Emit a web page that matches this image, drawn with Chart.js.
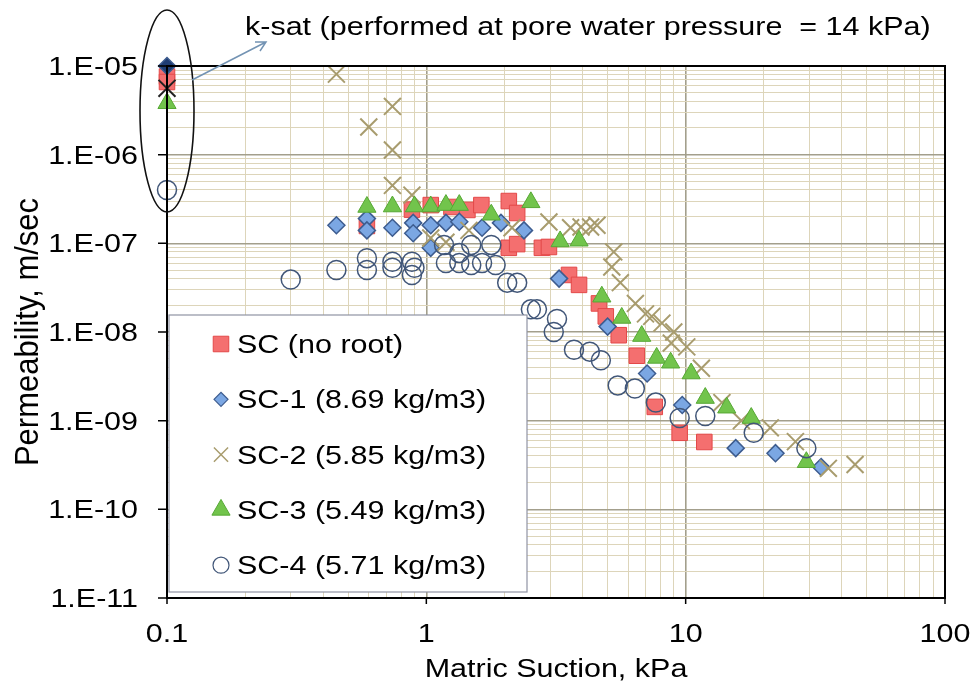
<!DOCTYPE html>
<html>
<head>
<meta charset="utf-8">
<script src="https://cdn.jsdelivr.net/npm/chart.js@4.4.1/dist/chart.umd.min.js"></script>
<style>
  html, body { margin: 0; padding: 0; background: #fff; }
  #wrap { width: 974px; height: 696px; }
</style>
</head>
<body>
<div id="wrap"><canvas id="permChart" width="974" height="696"></canvas></div>
<script>
// values: matric suction (kPa) and permeability (m/s)
const scSuction = [0.1, 0.1, 0.59, 0.88, 1.04, 1.25, 1.44, 1.63, 2.08, 2.24, 2.08, 2.24, 2.79, 2.97, 3.55, 3.88, 4.63, 4.92, 5.52, 6.48, 7.6, 9.48, 11.8];
const scPerm = [7.6e-6, 6.6e-6, 1.57e-7, 2.4e-7, 2.7e-7, 2.57e-7, 2.38e-7, 2.7e-7, 3.0e-7, 2.2e-7, 8.9e-8, 9.8e-8, 8.9e-8, 9.1e-8, 4.4e-8, 3.4e-8, 2.1e-8, 1.5e-8, 9.2e-9, 5.4e-9, 1.43e-9, 7.3e-10, 5.75e-10];

const sc1Suction = [0.1, 0.45, 0.59, 0.59, 0.74, 0.89, 0.89, 1.04, 1.04, 1.19, 1.34, 1.64, 1.94, 2.38, 3.25, 5.0, 7.1, 9.7, 15.6, 22.2, 33.3];
const sc1Perm = [1.0e-5, 1.6e-7, 1.9e-7, 1.4e-7, 1.5e-7, 1.7e-7, 1.3e-7, 1.6e-7, 8.9e-8, 1.7e-7, 1.75e-7, 1.5e-7, 1.7e-7, 1.4e-7, 4.0e-8, 1.15e-8, 3.4e-9, 1.5e-9, 4.9e-10, 4.3e-10, 3.0e-10];

const sc2Suction = [0.1, 0.45, 0.6, 0.74, 0.74, 0.74, 0.88, 1.04, 1.19, 1.46, 2.14, 2.97, 3.6, 3.95, 4.3, 4.55, 5.28, 5.19, 5.6, 6.4, 7.0, 7.4, 8.1, 9.0, 8.8, 10.1, 11.5, 13.8, 16.4, 21.2, 26.5, 35.5, 45];
const sc2Perm = [5.6e-6, 8.1e-6, 2.05e-6, 3.5e-6, 1.13e-6, 4.5e-7, 3.5e-7, 1.15e-7, 1.03e-7, 1.4e-7, 1.5e-7, 1.74e-7, 1.5e-7, 1.53e-7, 1.53e-7, 1.6e-7, 8.0e-8, 5.4e-8, 3.6e-8, 2.1e-8, 1.6e-8, 1.5e-8, 1.26e-8, 1.0e-8, 7.5e-9, 6.8e-9, 3.9e-9, 1.6e-9, 1.0e-9, 8.3e-10, 5.8e-10, 2.9e-10, 3.2e-10];

const sc3Suction = [0.1, 0.59, 0.74, 0.9, 1.04, 1.19, 1.34, 1.78, 2.53, 3.28, 3.88, 4.75, 5.67, 6.77, 7.73, 8.75, 10.5, 11.9, 14.4, 17.9, 29.2];
const sc3Perm = [3.8e-6, 2.57e-7, 2.6e-7, 2.6e-7, 2.6e-7, 2.7e-7, 2.7e-7, 2.1e-7, 2.9e-7, 1.05e-7, 1.07e-7, 2.5e-8, 1.44e-8, 9.0e-9, 5.1e-9, 4.5e-9, 3.4e-9, 1.8e-9, 1.4e-9, 1.07e-9, 3.4e-10];

const sc4Suction = [0.1, 0.3, 0.45, 0.59, 0.59, 0.74, 0.74, 0.88, 0.88, 0.9, 1.17, 1.19, 1.34, 1.34, 1.49, 1.49, 1.64, 1.78, 1.85, 2.05, 2.24, 2.53, 2.67, 3.19, 3.1, 3.71, 4.27, 4.71, 5.47, 6.37, 7.67, 9.48, 11.9, 18.3, 29.2];
const sc4Perm = [4.0e-7, 3.9e-8, 5.0e-8, 6.8e-8, 5.0e-8, 6.2e-8, 5.3e-8, 6.2e-8, 4.4e-8, 5.3e-8, 9.6e-8, 6.0e-8, 7.8e-8, 6.0e-8, 9.6e-8, 5.7e-8, 6.0e-8, 9.6e-8, 5.7e-8, 3.6e-8, 3.6e-8, 1.8e-8, 1.8e-8, 1.4e-8, 1.0e-8, 6.3e-9, 6.0e-9, 4.8e-9, 2.5e-9, 2.3e-9, 1.6e-9, 1.07e-9, 1.13e-9, 7.3e-10, 4.9e-10];

const seriesNames = ['SC (no root)', 'SC-1 (8.69 kg/m3)', 'SC-2 (5.85 kg/m3)', 'SC-3 (5.49 kg/m3)', 'SC-4 (5.71 kg/m3)'];

const xMajorTicks = [0.1, 1, 10, 100];
const xTickLabels = ['0.1', '1', '10', '100'];
const yMajorTicks = [1e-11, 1e-10, 1e-9, 1e-8, 1e-7, 1e-6, 1e-5];
const yTickLabels = ['1.E-11', '1.E-10', '1.E-09', '1.E-08', '1.E-07', '1.E-06', '1.E-05'];

const noteText = 'k-sat (performed at pore water pressure  = 14 kPa)';
const xTitle = 'Matric Suction, kPa';
const yTitle = 'Permeability, m/sec';

const FONT = '"Liberation Sans", Arial, sans-serif';
const FSIZE = 25;
const STRETCH = 1.22;

function toPoints(xs, ys) {
  return xs.map((x, i) => ({ x: x, y: ys[i] }));
}

// major ticks plus 2..9 in each decade
function logTicks(majors) {
  const out = [];
  majors.forEach((m, i) => {
    out.push({ value: m, major: true });
    if (i < majors.length - 1) {
      for (let k = 2; k <= 9; k++) out.push({ value: m * k, major: false });
    }
  });
  return out;
}

function gridColor(c) {
  return c.tick && c.tick.major ? '#a39f8c' : '#ddd5ba';
}
function gridWidth(c) {
  return c.tick && c.tick.major ? 1.6 : 1;
}

function drawText(ctx, str, x, y, size, align, rot) {
  ctx.save();
  ctx.font = size + 'px ' + FONT;
  ctx.fillStyle = '#000';
  ctx.textAlign = align;
  ctx.textBaseline = 'alphabetic';
  ctx.translate(x, y);
  if (rot) {
    ctx.rotate(rot);
    ctx.scale(1, 1.1);
  } else {
    ctx.scale(STRETCH, 1);
  }
  ctx.fillText(str, 0, 0);
  ctx.restore();
}

const legendStyles = [
  { pointStyle: 'rect', radius: 11, bg: '#f46f6f', border: '#e34848', bw: 1 },
  { pointStyle: 'rectRot', radius: 7, bg: '#7ba7e3', border: '#3d5c8f', bw: 1.2 },
  { pointStyle: 'crossRot', radius: 10, bg: '#a89c6e', border: '#a89c6e', bw: 1.5 },
  { pointStyle: 'triangle', radius: 10.5, bg: '#72c44c', border: '#56a834', bw: 1 },
  { pointStyle: 'circle', radius: 8, bg: 'rgba(0,0,0,0)', border: '#415678', bw: 1.2 }
];

const overlay = {
  id: 'overlay',
  afterDatasetsDraw(chart) {
    const ctx = chart.ctx;
    // legend box
    ctx.save();
    ctx.fillStyle = '#fff';
    ctx.strokeStyle = '#8f93a3';
    ctx.lineWidth = 1.2;
    ctx.fillRect(169, 315, 358, 277);
    ctx.strokeRect(169, 315, 358, 277);
    ctx.restore();
    seriesNames.forEach((name, i) => {
      const yc = 344 + i * 55.3;
      const st = legendStyles[i];
      ctx.save();
      ctx.fillStyle = st.bg;
      ctx.strokeStyle = st.border;
      ctx.lineWidth = st.bw;
      Chart.helpers.drawPoint(ctx, { pointStyle: st.pointStyle, radius: st.radius, rotation: 0, borderWidth: st.bw }, 221, yc);
      ctx.restore();
      drawText(ctx, name, 237, yc + 9, FSIZE, 'left');
    });
  },
  afterDraw(chart) {
    const ctx = chart.ctx;
    const a = chart.chartArea;
    const xs = chart.scales.x, ys = chart.scales.y;
    ctx.save();
    ctx.strokeStyle = '#000';
    ctx.lineWidth = 2;
    ctx.strokeRect(a.left, a.top, a.right - a.left, a.bottom - a.top);
    ctx.lineWidth = 1.5;
    ctx.beginPath();
    yMajorTicks.forEach(v => {
      const py = ys.getPixelForValue(v);
      ctx.moveTo(a.left - 9, py);
      ctx.lineTo(a.left, py);
    });
    xMajorTicks.forEach(v => {
      const px = xs.getPixelForValue(v);
      ctx.moveTo(px, a.bottom);
      ctx.lineTo(px, a.bottom + 6);
    });
    ctx.stroke();
    ctx.restore();

    yMajorTicks.forEach((v, i) => {
      drawText(ctx, yTickLabels[i], 138, ys.getPixelForValue(v) + 9, FSIZE, 'right');
    });
    xMajorTicks.forEach((v, i) => {
      drawText(ctx, xTickLabels[i], xs.getPixelForValue(v), 642, FSIZE, 'center');
    });
    drawText(ctx, xTitle, (a.left + a.right) / 2, 677, FSIZE, 'center');
    drawText(ctx, yTitle, 38, (a.top + a.bottom) / 2, 31, 'center', -Math.PI / 2);
    drawText(ctx, noteText, 245, 35, FSIZE, 'left');

    // ellipse around the k-sat points
    ctx.save();
    ctx.strokeStyle = '#111';
    ctx.lineWidth = 1.6;
    ctx.beginPath();
    ctx.ellipse(xs.getPixelForValue(0.1), 111, 27, 101, 0, 0, Math.PI * 2);
    ctx.stroke();
    // arrow to the note
    ctx.strokeStyle = '#7393b3';
    ctx.lineWidth = 1.5;
    ctx.beginPath();
    ctx.moveTo(192, 80);
    ctx.lineTo(266, 42);
    ctx.moveTo(255, 42);
    ctx.lineTo(266, 42);
    ctx.lineTo(260, 51);
    ctx.stroke();
    ctx.restore();
  }
};

const ksat = (c, first, rest) => (c.dataIndex === 0 ? first : rest);

const ctx = document.getElementById('permChart').getContext('2d');
const permChart = new Chart(ctx, {
  type: 'scatter',
  data: {
    datasets: [
      {
        label: seriesNames[0], data: toPoints(scSuction, scPerm), order: 5, clip: false,
        pointStyle: 'rect', pointRadius: 11, pointBackgroundColor: '#f46f6f', pointBorderColor: '#e34848', pointBorderWidth: 1
      },
      {
        label: seriesNames[1], data: toPoints(sc1Suction, sc1Perm), order: 4, clip: false,
        pointStyle: 'rectRot', pointRadius: 8.5,
        pointBackgroundColor: c => ksat(c, '#1f3d73', '#7ba7e3'), pointBorderColor: '#3d5c8f', pointBorderWidth: 1.5
      },
      {
        label: seriesNames[2], data: toPoints(sc2Suction, sc2Perm), order: 3, clip: false,
        pointStyle: 'crossRot', pointRadius: 12,
        pointBorderColor: c => ksat(c, '#222', '#a89c6e'), pointBackgroundColor: '#a89c6e', pointBorderWidth: 2
      },
      {
        label: seriesNames[3], data: toPoints(sc3Suction, sc3Perm), order: 2, clip: false,
        pointStyle: 'triangle', pointRadius: 10.5, pointBackgroundColor: '#72c44c', pointBorderColor: '#56a834', pointBorderWidth: 1
      },
      {
        label: seriesNames[4], data: toPoints(sc4Suction, sc4Perm), order: 1, clip: false,
        pointStyle: 'circle', pointRadius: 9.5, pointBackgroundColor: 'rgba(0,0,0,0)', pointBorderColor: '#415678', pointBorderWidth: 1.5
      }
    ]
  },
  options: {
    responsive: false,
    animation: false,
    layout: { padding: { left: 167, top: 66, right: 29, bottom: 98 } },
    plugins: { legend: { display: false }, tooltip: { enabled: false } },
    scales: {
      x: {
        type: 'logarithmic', min: 0.1, max: 100,
        ticks: { display: false },
        border: { display: false },
        grid: { color: gridColor, lineWidth: gridWidth, drawTicks: false },
        afterBuildTicks: s => { s.ticks = logTicks(xMajorTicks); }
      },
      y: {
        type: 'logarithmic', min: 1e-11, max: 1e-5,
        ticks: { display: false },
        border: { display: false },
        grid: { color: gridColor, lineWidth: gridWidth, drawTicks: false },
        afterBuildTicks: s => { s.ticks = logTicks(yMajorTicks); }
      }
    }
  },
  plugins: [overlay]
});
</script>
</body>
</html>
